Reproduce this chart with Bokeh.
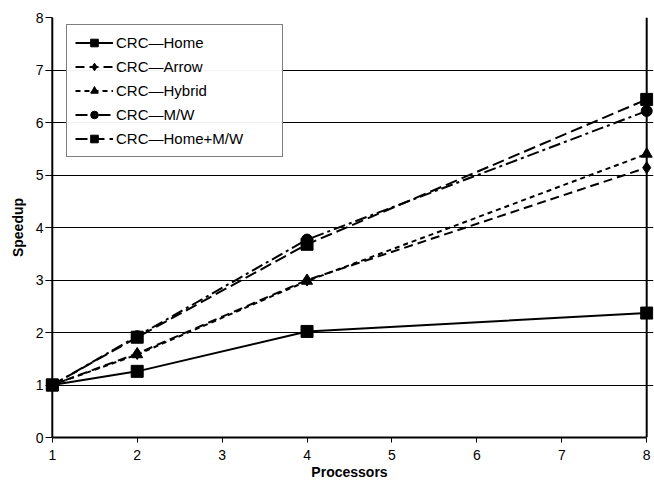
from bokeh.plotting import figure
from bokeh.embed import file_html
from bokeh.resources import INLINE
from bokeh.models import Legend, LegendItem, FixedTicker, Span

procs = [1, 2, 4, 8]
home = [1.0, 1.26, 2.02, 2.37]
arrow = [1.0, 1.60, 3.00, 5.14]
hybrid = [1.0, 1.58, 2.98, 5.40]
mw = [1.0, 1.93, 3.77, 6.22]
home_mw = [1.0, 1.91, 3.68, 6.44]
names = ["CRC\u2014Home", "CRC\u2014Arrow", "CRC\u2014Hybrid", "CRC\u2014M/W", "CRC\u2014Home+M/W"]
x_ticks = [1, 2, 3, 4, 5, 6, 7, 8]
y_ticks = [0, 1, 2, 3, 4, 5, 6, 7, 8]

FONT = "Liberation Sans"
XMIN, XMAX = 1, 8
PAD = 0.08

p = figure(width=654, height=483, output_backend="svg", toolbar_location=None,
           x_range=(XMIN - PAD, XMAX + PAD), y_range=(0, 8),
           min_border_left=45, min_border_right=1, min_border_top=17, min_border_bottom=46)

p.xgrid.visible = False
p.ygrid.grid_line_color = "black"
p.ygrid.grid_line_width = 1
p.ygrid.ticker = FixedTicker(ticks=y_ticks)
p.ygrid.bounds = (XMIN, XMAX)
p.outline_line_color = None

for ax in (p.xaxis, p.yaxis):
    ax.axis_line_width = 2
    ax.axis_line_color = "black"
    ax.major_tick_in = 0
    ax.major_tick_out = 5
    ax.minor_tick_line_color = None
    ax.major_tick_line_color = "black"
    ax.major_label_text_font = FONT
    ax.major_label_text_font_size = "14px"
    ax.major_label_text_color = "black"
    ax.axis_label_text_font = FONT
    ax.axis_label_text_font_size = "14px"
    ax.axis_label_text_font_style = "bold"
    ax.axis_label_text_color = "black"

p.xaxis.ticker = FixedTicker(ticks=x_ticks)
p.xaxis.bounds = (XMIN, XMAX)
p.xaxis.axis_label = "Processors"
p.xaxis.axis_label_standoff = 1
p.xaxis.major_label_standoff = 7

# y axis sits at the frame's left edge; its ticks reach inward to x = 1
p.yaxis.ticker = FixedTicker(ticks=y_ticks)
p.yaxis.axis_label = "Speedup"
p.yaxis.axis_line_color = None
p.yaxis.major_tick_out = 0
p.yaxis.major_tick_in = 7
p.yaxis.axis_label_standoff = 7
p.yaxis.major_label_standoff = 2

# axis line at x = 1 and right border at x = 8
p.add_layout(Span(location=XMIN, dimension="height", line_color="black", line_width=2))
p.add_layout(Span(location=XMAX, dimension="height", line_color="black", line_width=2))

items = []
series = [
    (home, None, "square", 12),
    (arrow, "9 5", "diamond", 12),
    (hybrid, "5 4", "triangle", 11),
    (mw, "12 4 3 4", "circle", 11),
    (home_mw, "12 5", "square", 12),
]
for (vals, dash, marker, size), name in zip(series, names):
    kw = {}
    if dash:
        kw["line_dash"] = dash
    l = p.line(procs, vals, line_color="black", line_width=2, **kw)
    m = p.scatter(procs, vals, marker=marker, size=size, fill_color="black", line_color="black")
    items.append(LegendItem(label=name, renderers=[l, m]))

legend = Legend(items=items, location=(21, 280))
legend.glyph_width = 38
legend.glyph_height = 19
legend.label_height = 19
legend.label_width = 158
legend.label_text_font = FONT
legend.label_text_font_size = "15px"
legend.label_text_color = "black"
legend.border_line_color = "black"
legend.border_line_width = 1.5
legend.spacing = 5
legend.padding = 8
legend.margin = 0
legend.label_standoff = 3
p.add_layout(legend)

open("out.html", "w").write(file_html(p, INLINE))
